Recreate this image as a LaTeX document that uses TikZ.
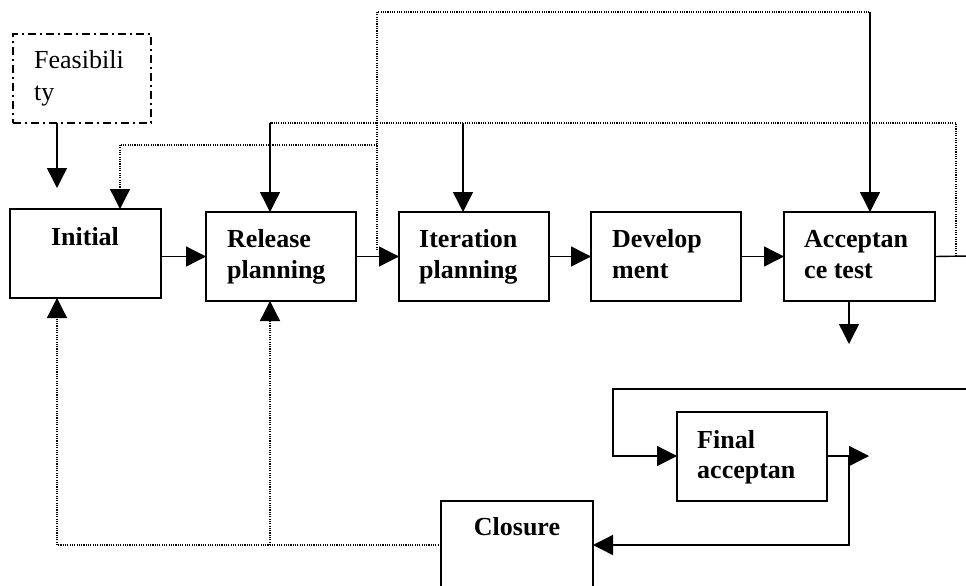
\documentclass[tikz,border=0pt]{standalone}
\usepackage{fontspec}
\setmainfont{Liberation Serif}
\usetikzlibrary{arrows.meta}
\begin{document}
\begin{tikzpicture}[x=1pt,y=-1pt,
  box/.style={draw, line width=1.7pt, rectangle, inner sep=0pt, outer sep=0pt, anchor=north west},
  feasbox/.style={draw, line width=1.5pt, dash pattern=on 8pt off 4pt on 2pt off 4pt,
    rectangle, inner sep=0pt, outer sep=0pt, anchor=north west},
  lbl/.style={font=\fontsize{26}{31}\selectfont\bfseries, inner sep=0pt, anchor=base west},
  lblr/.style={font=\fontsize{26}{31}\selectfont, inner sep=0pt, anchor=base west},
  conn/.style={line width=1.4pt},
  tip/.style={-{Triangle[length=20pt,width=20pt]}},
  dots/.style={line width=1.3pt, dash pattern=on 1.1pt off 1.2pt}
]
\useasboundingbox (0,0) rectangle (966,586);
\clip (0,0) rectangle (966,586);

% boxes
\node[feasbox, minimum width=138pt, minimum height=89pt] (feas) at (13,34) {};
\node[box, minimum width=151pt, minimum height=89pt] (init) at (10,209) {};
\node[box, minimum width=150pt, minimum height=89pt] (rel) at (206,212) {};
\node[box, minimum width=150pt, minimum height=89pt] (iter) at (399,212) {};
\node[box, minimum width=150pt, minimum height=89pt] (dev) at (591,212) {};
\node[box, minimum width=151pt, minimum height=89pt] (acc) at (784,212) {};
\node[box, minimum width=150pt, minimum height=89pt] (fin) at (677,412) {};
\node[box, minimum width=152pt, minimum height=100pt] (clo) at (441,501) {};

% labels
\node[lblr] (feasA) at (34,69) {Feasibili};
\node[lblr] (feasB) at (34,100) {ty};
\node[lbl, anchor=base] (initA) at (85,245) {Initial};
\node[lbl] (relA) at (227,247) {Release};
\node[lbl] (relB) at (227,278) {planning};
\node[lbl] (iterA) at (419,247) {Iteration};
\node[lbl] (iterB) at (419,278) {planning};
\node[lbl] (devA) at (612,247) {Develop};
\node[lbl] (devB) at (612,278) {ment};
\node[lbl] (accA) at (804,247) {Acceptan};
\node[lbl] (accB) at (804,278) {ce test};
\node[lbl] (finA) at (697,448) {Final};
\node[lbl] (finB) at (697,478) {acceptan};
\node[lbl, anchor=base] (cloA) at (517,535) {Closure};

% junction points
\coordinate (ftip) at (57,188);
\coordinate (accout) at (970,256);
\coordinate (d1) at (377,250);
\coordinate (t1) at (377,12);
\coordinate (t2) at (870,12);
\coordinate (r1) at (956,256);
\coordinate (r2) at (956,123);
\coordinate (r3) at (270,123);
\coordinate (r4) at (463,123);
\coordinate (s1) at (377,145);
\coordinate (s2) at (120,145);
\coordinate (atip) at (849,344);
\coordinate (l1) at (970,389);
\coordinate (l2) at (613,389);
\coordinate (l3) at (613,456);
\coordinate (ftip2) at (869,456);
\coordinate (b1) at (849,456);
\coordinate (b2) at (849,545);
\coordinate (c1) at (441,545);
\coordinate (c2) at (57,545);
\coordinate (c3) at (270,545);

% main flow
\draw[conn, tip] (feas.south -| ftip) -- (ftip);
\draw[conn, tip] (init.east |- rel.west) -- (rel.west);
\draw[conn, tip] (rel.east) -- (iter.west);
\draw[conn, tip] (iter.east) -- (dev.west);
\draw[conn, tip] (dev.east) -- (acc.west);
\draw[conn] (acc.east) -- (accout);
\draw[conn, tip] (acc.south -| atip) -- (atip);

% feedback from release planning to acceptance test
\draw[dots] (d1) -- (t1) -- (t2);
\draw[conn, tip] (t2) -- (acc.north -| t2);

% feedback from acceptance test
\draw[dots] (r1) -- (r2) -- (r3);
\draw[conn, tip] (r3) -- (rel.north -| r3);
\draw[conn, tip] (r4) -- (iter.north -| r4);
\draw[dots] (s1) -- (s2);
\draw[dots, tip] (s2) -- (init.north -| s2);

% final acceptance and closure
\draw[conn, tip] (l1) -- (l2) -- (l3) -- (fin.west |- l3);
\draw[conn, tip] (fin.east |- ftip2) -- (ftip2);
\draw[conn, tip] (b1) -- (b2) -- (clo.east |- b2);

% closure feeding back
\draw[dots] (c1) -- (c2);
\draw[dots, tip] (c2) -- (init.south -| c2);
\draw[dots, tip] (c3) -- (rel.south -| c3);
\end{tikzpicture}
\end{document}
